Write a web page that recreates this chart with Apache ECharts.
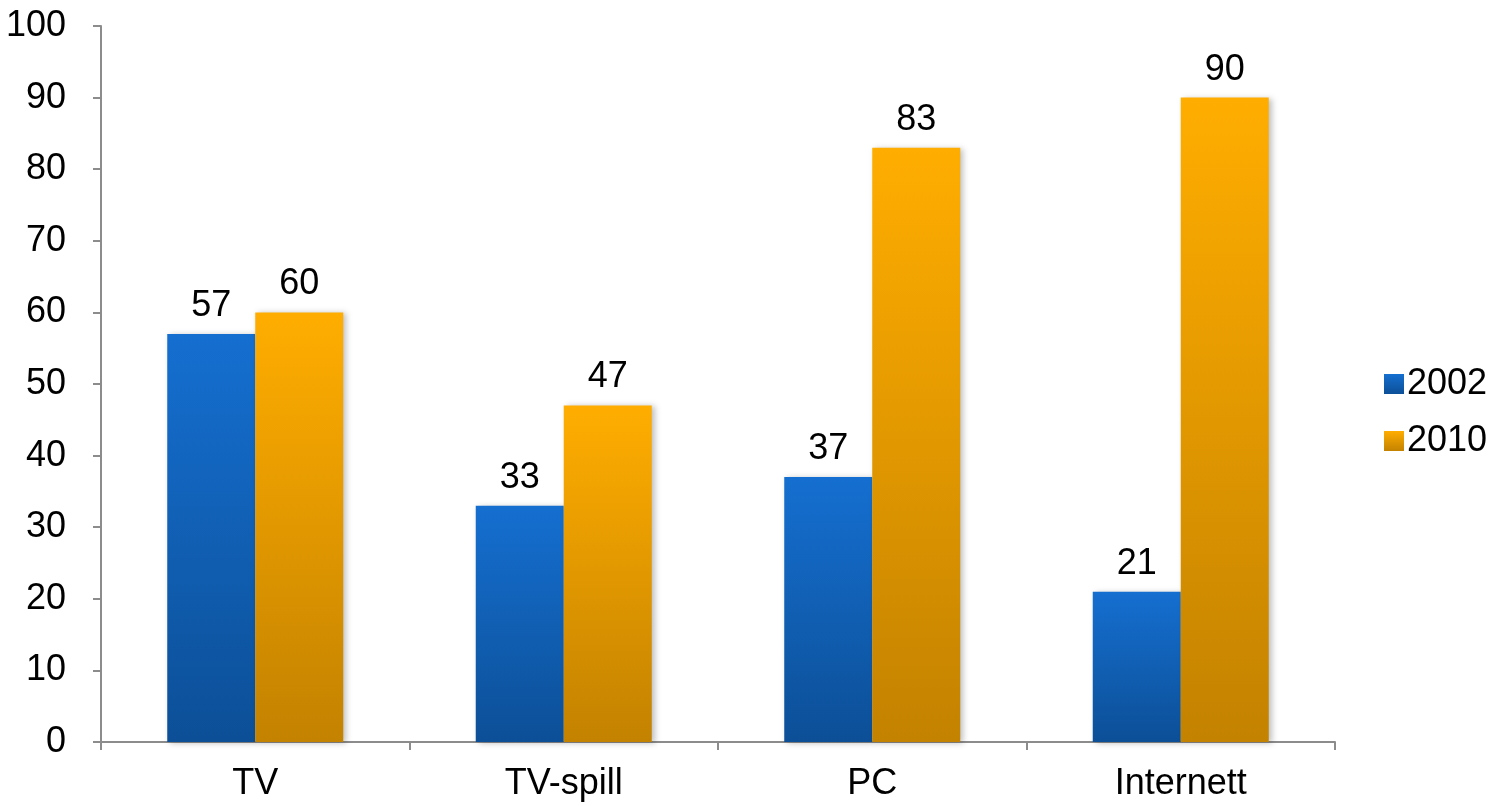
<!DOCTYPE html>
<html>
<head>
<meta charset="utf-8">
<script src="https://cdn.jsdelivr.net/npm/echarts@6/dist/echarts.min.js"></script>
<style>
  html, body { margin: 0; padding: 0; background: #fff; }
  #chart { width: 1493px; height: 806px; }
</style>
</head>
<body>
<div id="chart"></div>
<script>
'use strict';

// data
const categories = ['TV', 'TV-spill', 'PC', 'Internett'];
const years = ['2002', '2010'];
const values2002 = [57, 33, 37, 21];
const values2010 = [60, 47, 83, 90];

const font = '"Liberation Sans", Arial, sans-serif';

const grad = (top, bottom) => new echarts.graphic.LinearGradient(0, 0, 0, 1, [
  { offset: 0, color: top },
  { offset: 1, color: bottom }
]);

const blue = grad('#156fd0', '#0c4f97');
const orange = grad('#ffad00', '#c38200');

const barSeries = (name, data, color) => ({
  name: name,
  type: 'bar',
  data: data,
  barWidth: 88,
  barGap: '0%',
  itemStyle: {
    color: color,
    shadowColor: 'rgba(0,0,0,0.25)',
    shadowBlur: 6,
    shadowOffsetX: 3,
    shadowOffsetY: 1
  },
  label: {
    show: true,
    position: 'top',
    distance: 10,
    color: '#000',
    fontSize: 36,
    fontFamily: font
  }
});

const chart = echarts.init(document.getElementById('chart'));
chart.setOption({
  animation: false,
  textStyle: { fontFamily: font },
  grid: { left: 101, right: 158, top: 26, bottom: 64, containLabel: false },
  legend: {
    data: years,
    orient: 'vertical',
    left: 1379,
    top: 361,
    icon: 'rect',
    itemWidth: 20,
    itemHeight: 20,
    itemGap: 21,
    textStyle: { fontSize: 36, color: '#000', fontFamily: font, padding: [0, 0, 0, -2] }
  },
  xAxis: {
    type: 'category',
    data: categories,
    axisLine: { lineStyle: { color: '#8c8c8c', width: 2 } },
    axisTick: { show: true, length: 8, lineStyle: { color: '#8c8c8c', width: 2 } },
    axisLabel: { color: '#000', fontSize: 36, margin: 24, fontFamily: font }
  },
  yAxis: {
    type: 'value',
    min: 0,
    max: 100,
    interval: 10,
    axisLine: { show: true, lineStyle: { color: '#8c8c8c', width: 2 } },
    axisTick: { show: true, length: 8, lineStyle: { color: '#8c8c8c', width: 2 } },
    axisLabel: { color: '#000', fontSize: 36, margin: 35, fontFamily: font },
    splitLine: { show: false }
  },
  series: [
    barSeries(years[0], values2002, blue),
    barSeries(years[1], values2010, orange)
  ]
});
</script>
</body>
</html>
